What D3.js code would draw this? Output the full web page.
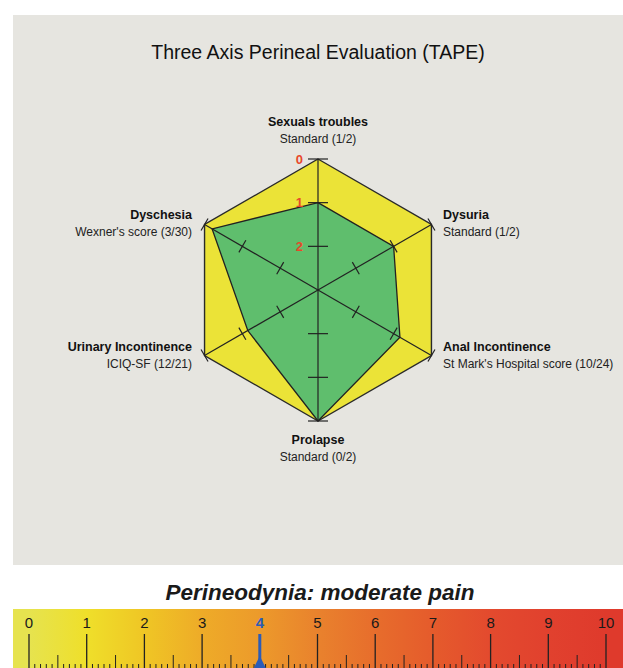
<!DOCTYPE html>
<html>
<head>
<meta charset="utf-8">
<script src="https://cdn.jsdelivr.net/npm/d3@7"></script>
<style>
  body { margin: 0; background: #fff; }
  text { font-family: "Liberation Sans", Arial, sans-serif; }
</style>
</head>
<body>
<svg id="chart" width="623" height="668"></svg>
<script>
// radar axes, clockwise from top
const axisNames = ["Sexuals troubles", "Dysuria", "Anal Incontinence", "Prolapse", "Urinary Incontinence", "Dyschesia"];
const scoreNames = ["Standard", "Standard", "St Mark's Hospital score", "Standard", "ICIQ-SF", "Wexner's score"];
const scores = [1, 1, 10, 0, 12, 3];
const maxima = [2, 2, 24, 2, 21, 30];
const gradeTicks = [0, 1, 2];

// pain scale
const painTicks = [0, 1, 2, 3, 4, 5, 6, 7, 8, 9, 10];
const painValue = 4;
const painLabel = "moderate pain";
const painColors = ["#e6e34f", "#efdf2a", "#efc625", "#eeab28", "#ec9a2b", "#e9822d", "#e76d2c", "#e55b2c", "#e34a2e", "#e1412e", "#df3a2c"];

const svg = d3.select("#chart");
const W = 623;

// panel
svg.append("rect").attr("x", 13).attr("y", 15).attr("width", W - 13).attr("height", 550).attr("fill", "#e6e5e0");

svg.append("text")
  .attr("x", 318).attr("y", 59)
  .attr("text-anchor", "middle")
  .attr("font-size", "19.5px")
  .attr("fill", "#111")
  .text("Three Axis Perineal Evaluation (TAPE)");

const cx = 318, cy = 290, R = 131;
const n = axisNames.length;
// fraction of max -> radius (0 at the outer rim, 3 grade steps to the center)
const r = d3.scaleLinear().domain([0, 1.5]).range([R, 0]);
const ang = i => (i * 2 * Math.PI) / n;
const pt = (i, rad) => [cx + rad * Math.sin(ang(i)), cy - rad * Math.cos(ang(i))];

const g = svg.append("g");
const line = d3.line().curve(d3.curveLinearClosed);

// outer hexagon
g.append("path")
  .attr("d", line(d3.range(n).map(i => pt(i, r(0)))))
  .attr("fill", "#ebe337")
  .attr("stroke", "#2a2a2a")
  .attr("stroke-width", 1.4);

// patient polygon
g.append("path")
  .attr("d", line(scores.map((s, i) => pt(i, r(s / maxima[i])))))
  .attr("fill", "#5fbe6d")
  .attr("stroke", "#222")
  .attr("stroke-width", 1.3);

// axes
d3.range(n).forEach(i => {
  const [x2, y2] = pt(i, R);
  g.append("line")
    .attr("x1", cx).attr("y1", cy).attr("x2", x2).attr("y2", y2)
    .attr("stroke", "#222").attr("stroke-width", 1.2);
  const vertical = i === 0 || i === 3;
  const half = vertical ? 10 : 7;
  const a = ang(i);
  gradeTicks.forEach(t => {
    const [tx, ty] = pt(i, r(t / 2));
    g.append("line")
      .attr("x1", tx - half * Math.cos(a)).attr("y1", ty - half * Math.sin(a))
      .attr("x2", tx + half * Math.cos(a)).attr("y2", ty + half * Math.sin(a))
      .attr("stroke", "#222").attr("stroke-width", 1.2);
  });
});

// grade labels on the top axis
g.selectAll("text.grade")
  .data(gradeTicks)
  .join("text")
  .attr("class", "grade")
  .attr("x", cx - 15)
  .attr("y", t => pt(0, r(t / 2))[1] + 4.5)
  .attr("text-anchor", "end")
  .attr("font-size", "13px")
  .attr("font-weight", "bold")
  .attr("fill", "#e8482a")
  .text(t => t);

// axis labels
const labelPos = [
  { x: 318, y: 126, anchor: "middle" },
  { x: 443, y: 219, anchor: "start" },
  { x: 443, y: 351, anchor: "start" },
  { x: 318, y: 444, anchor: "middle" },
  { x: 192, y: 351, anchor: "end" },
  { x: 192, y: 219, anchor: "end" }
];
axisNames.forEach((name, i) => {
  const p = labelPos[i];
  g.append("text")
    .attr("x", p.x).attr("y", p.y).attr("text-anchor", p.anchor)
    .attr("font-size", "12.5px").attr("font-weight", "bold").attr("fill", "#111")
    .text(name);
  g.append("text")
    .attr("x", p.x).attr("y", p.y + 16.5).attr("text-anchor", p.anchor)
    .attr("font-size", "12px").attr("fill", "#222")
    .text(`${scoreNames[i]} (${scores[i]}/${maxima[i]})`);
});

// pain title
svg.append("text")
  .attr("x", 320).attr("y", 600)
  .attr("text-anchor", "middle")
  .attr("font-size", "22.5px")
  .attr("font-weight", "bold")
  .attr("font-style", "italic")
  .attr("fill", "#1a1a1a")
  .text("Perineodynia: " + painLabel);

// pain bar
const x = d3.scaleLinear().domain([0, 10]).range([29, 606]);
const barX0 = 13, barY0 = 609;

const grad = svg.append("defs").append("linearGradient")
  .attr("id", "painGrad")
  .attr("gradientUnits", "userSpaceOnUse")
  .attr("x1", x(0)).attr("x2", x(10)).attr("y1", 0).attr("y2", 0);
grad.selectAll("stop")
  .data(painColors)
  .join("stop")
  .attr("offset", (c, i) => i / (painColors.length - 1))
  .attr("stop-color", c => c);

svg.append("rect")
  .attr("x", barX0).attr("y", barY0).attr("width", W - barX0).attr("height", 668 - barY0)
  .attr("fill", "url(#painGrad)");

const minor = d3.range(0, 100).map(d => d / 10).filter(d => d % 1 !== 0);
svg.selectAll("line.minor")
  .data(minor)
  .join("line")
  .attr("class", "minor")
  .attr("x1", d => x(d)).attr("x2", d => x(d))
  .attr("y1", d => (Math.abs(d % 1 - 0.5) < 1e-6 ? 655 : 664))
  .attr("y2", 668)
  .attr("stroke", "#222").attr("stroke-width", 1);

svg.selectAll("line.major")
  .data(painTicks)
  .join("line")
  .attr("class", "major")
  .attr("x1", d => x(d)).attr("x2", d => x(d))
  .attr("y1", 634).attr("y2", 668)
  .attr("stroke", d => (d === painValue ? "#2b5cb8" : "#222"))
  .attr("stroke-width", d => (d === painValue ? 3 : 1.3));

svg.selectAll("text.pain")
  .data(painTicks)
  .join("text")
  .attr("class", "pain")
  .attr("x", d => x(d)).attr("y", 628)
  .attr("text-anchor", "middle")
  .attr("font-size", "15px")
  .attr("font-weight", d => (d === painValue ? "bold" : "normal"))
  .attr("fill", d => (d === painValue ? "#2b5cb8" : "#1a1a1a"))
  .text(d => d);

// marker foot
svg.append("path")
  .attr("d", `M${x(painValue)},656 L${x(painValue) - 6},668 L${x(painValue) + 6},668 Z`)
  .attr("fill", "#2b5cb8");
</script>
</body>
</html>
